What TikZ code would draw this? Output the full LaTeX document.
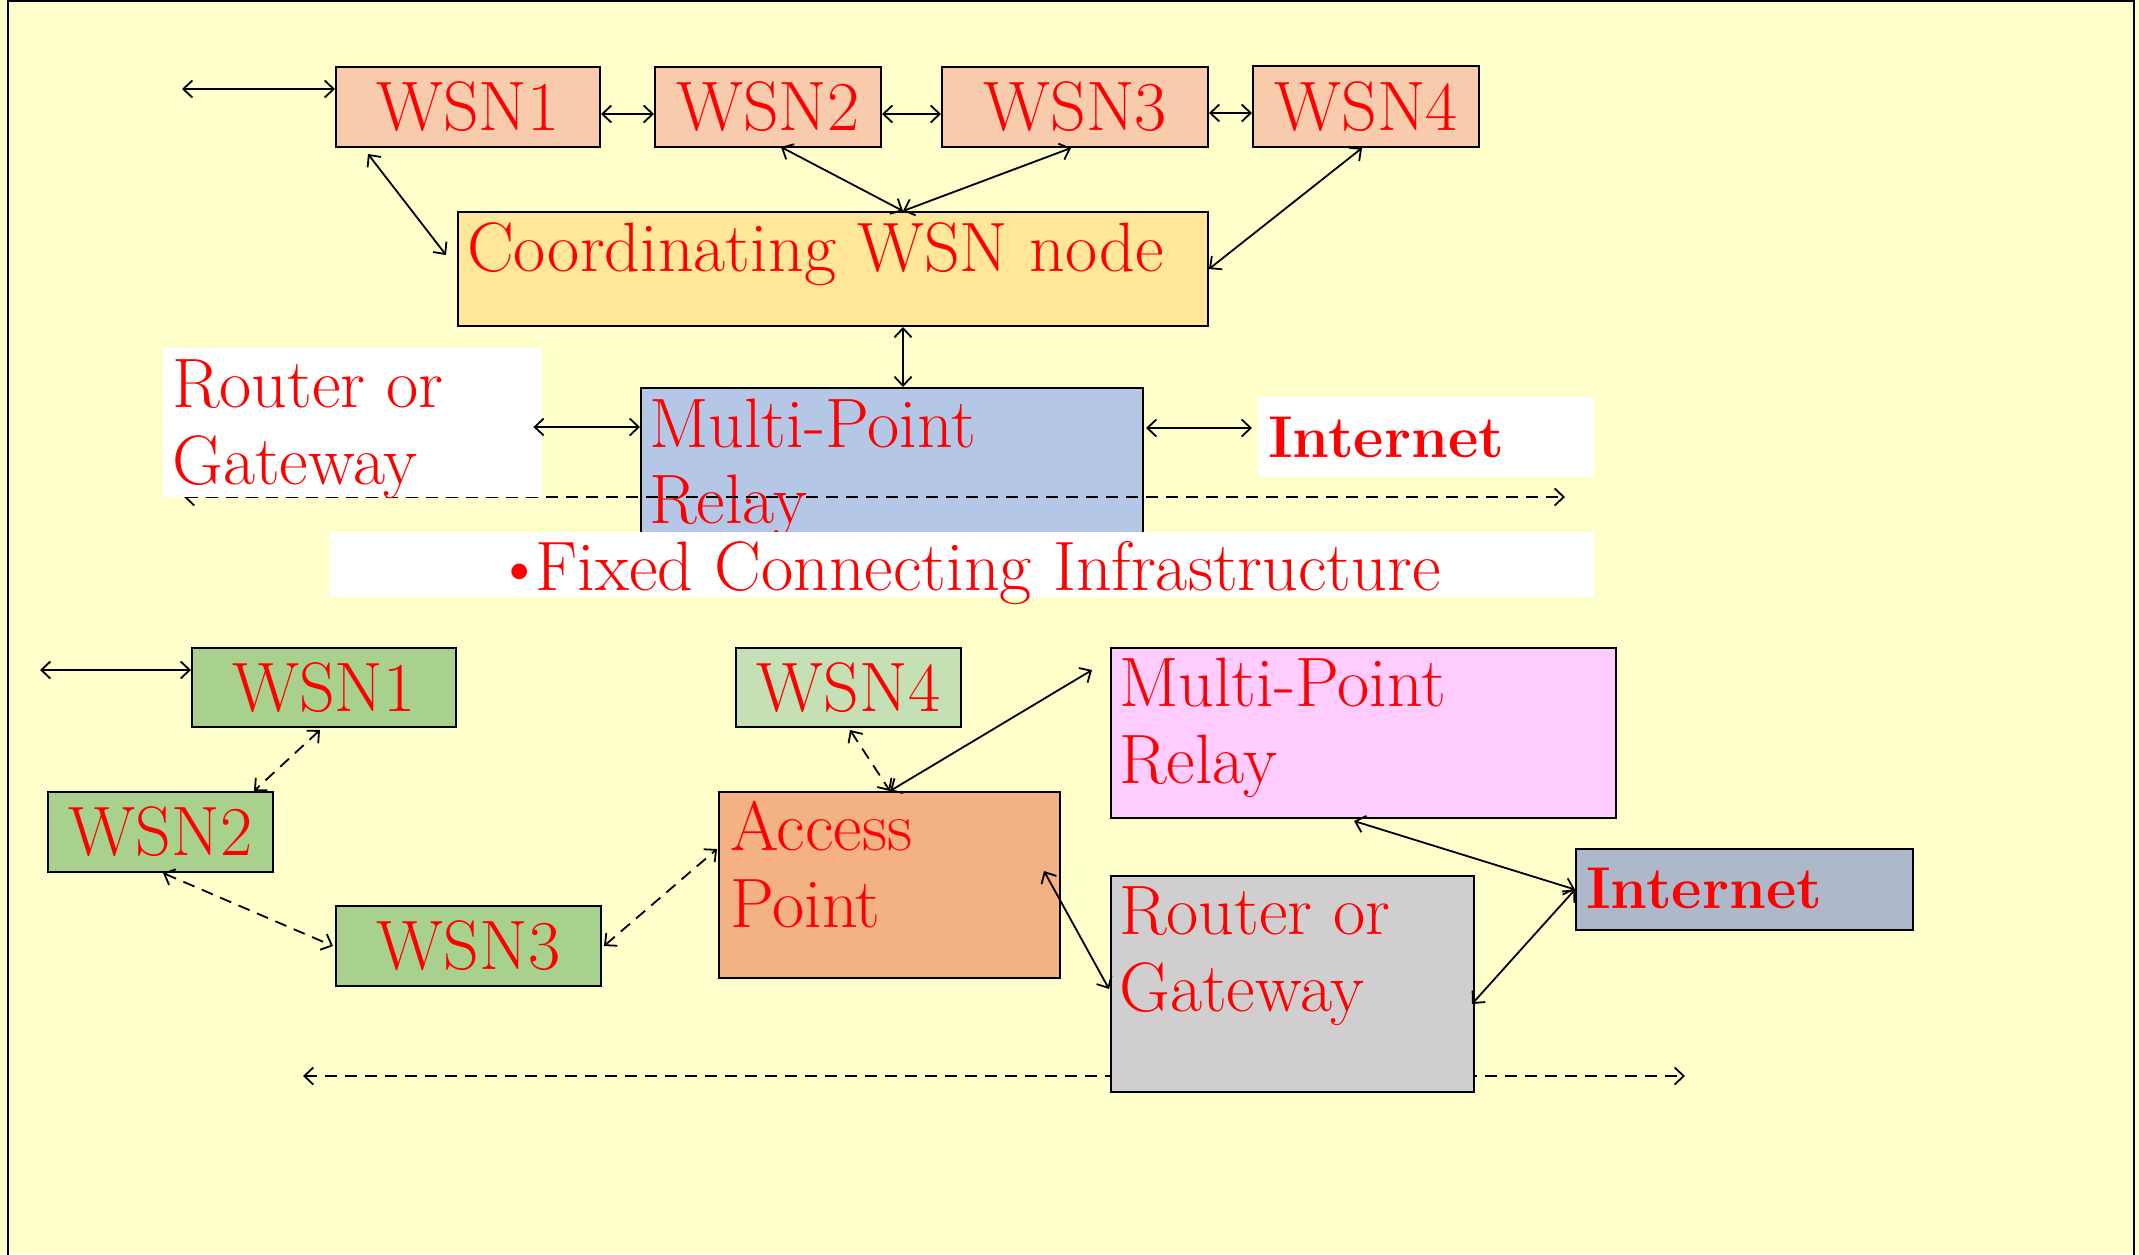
\documentclass[tikz,border=0pt]{standalone}
\usepackage{fontspec}
\usetikzlibrary{arrows.meta}
\definecolor{bgy}{HTML}{FFFFCC}
\definecolor{peach}{HTML}{F8CBAD}
\definecolor{coordc}{HTML}{FFE699}
\definecolor{mprblue}{HTML}{B4C7E7}
\definecolor{wgreen}{HTML}{A9D18E}
\definecolor{wlgreen}{HTML}{C5E0B4}
\definecolor{apc}{HTML}{F4B183}
\definecolor{pinkc}{HTML}{FFCCFF}
\definecolor{grayc}{HTML}{D0CECE}
\definecolor{inetc}{HTML}{ADB9CA}
\newcommand\bigtxt{\fontsize{70}{84}\selectfont}
\newcommand\inetfont{\fontsize{59}{70}\selectfont\bfseries}
\tikzset{
  box/.style={draw=black, line width=2pt, inner sep=0pt, anchor=north west, font=\bigtxt, text=red},
  wbox/.style={draw=none, fill=white, inner sep=0pt, anchor=north west},
  lbl/.style={anchor=base west, inner sep=0pt, text=red, font=\bigtxt},
  ilbl/.style={anchor=base west, inner sep=0pt, text=red, font=\inetfont},
  arr/.style={line width=1.8pt, {Straight Barb[length=9pt,width=17pt]}-{Straight Barb[length=9pt,width=17pt]}},
  dsh/.style={arr, dash pattern=on 12pt off 8pt}
}
\begin{document}
\begin{tikzpicture}[x=1pt,y=-1pt]
\useasboundingbox (0,0) rectangle (2139,1254);
\fill[bgy] (0,0) rectangle (2139,1254);
\draw[line width=2pt] (8,1256) -- (8,1) -- (2134,1) -- (2134,1256);

% ---------- top section ----------
\node[box, fill=peach, minimum width=264, minimum height=80] (tw1) at (335,66) {WSN1};
\node[box, fill=peach, minimum width=226, minimum height=80] (tw2) at (654,66) {WSN2};
\node[box, fill=peach, minimum width=266, minimum height=80] (tw3) at (941,66) {WSN3};
\node[box, fill=peach, minimum width=226, minimum height=81] (tw4) at (1252,65) {WSN4};
\node[box, fill=coordc, minimum width=750, minimum height=114] (coord) at (457,211) {};
\node[lbl] (tcoord) at (467,271) {Coordinating WSN node};
\node[box, fill=mprblue, minimum width=502, minimum height=175] (mpr1) at (640,387) {};
\node[lbl] (tmpr1a) at (649,447) {Multi-Point};
\node[lbl] (tmpr1b) at (649,523) {Relay};

\coordinate (D1) at (184,497);
\coordinate (D2) at (1565,497);
\draw[dsh] (D1) -- (D2);

\node[wbox, minimum width=379, minimum height=149] (router1) at (163,348) {};
\node[lbl] (trouter1a) at (172,407) {Router or};
\node[lbl] (trouter1b) at (172,484) {Gateway};
\node[wbox, minimum width=336, minimum height=80] (inet1) at (1258,397) {};
\node[ilbl] (tinet1) at (1268,457) {Internet};
\node[wbox, minimum width=1264, minimum height=65] (fixed) at (330,532) {};
\node[lbl] (tfixed) at (494,590) {\textbullet\kern-9pt Fixed Connecting Infrastructure};

\coordinate (L1) at (182,89);
\draw[arr] (L1) -- (L1 -| tw1.west);
\draw[arr] ([yshift=-7pt]tw1.east) -- ([yshift=-7pt]tw2.west);
\draw[arr] ([yshift=-7pt]tw2.east) -- ([yshift=-7pt]tw3.west);
\coordinate (t34) at ([yshift=-6pt]tw3.east);
\draw[arr] (t34) -- (t34 -| tw4.west);
\draw[arr] ([shift={(33,6)}]tw1.south west) -- ([shift={(-11,-14)}]coord.west);
\coordinate (ctop) at ([xshift=446pt]coord.north west);
\draw[arr] ([shift={(127,-1)}]tw2.south west) -- (ctop);
\draw[arr] ([shift={(130,0)}]tw3.south west) -- (ctop);
\draw[arr] ([shift={(110,0)}]tw4.south west) -- (coord.east);
\draw[arr] (coord.south west -| ctop) -- (mpr1.north west -| ctop);
\coordinate (ra) at ([shift={(-9,79)}]router1.north east);
\draw[arr] (ra) -- (ra -| mpr1.west);
\draw[arr] ([shift={(2,41)}]mpr1.north east) -- ([shift={(-6,31)}]inet1.north west);

% ---------- bottom section ----------
\node[box, fill=wgreen, minimum width=264, minimum height=79] (bw1) at (191,647) {WSN1};
\node[box, fill=wgreen, minimum width=225, minimum height=80] (bw2) at (47,791) {WSN2};
\node[box, fill=wgreen, minimum width=265, minimum height=80] (bw3) at (335,905) {WSN3};
\node[box, fill=wlgreen, minimum width=225, minimum height=79] (bw4) at (735,647) {WSN4};
\node[box, fill=apc, minimum width=341, minimum height=186] (ap) at (718,791) {};
\node[lbl] (tapa) at (730,850) {Access};
\node[lbl] (tapb) at (730,927) {Point};
\node[box, fill=pinkc, minimum width=505, minimum height=170] (mpr2) at (1110,647) {};
\node[lbl] (tmpr2a) at (1119,706) {Multi-Point};
\node[lbl] (tmpr2b) at (1119,783) {Relay};

\coordinate (D3) at (303,1076);
\coordinate (D4) at (1685,1076);
\draw[dsh] (D3) -- (D4);

\node[box, fill=grayc, minimum width=363, minimum height=216] (rg2) at (1110,875) {};
\node[lbl] (trg2a) at (1119,934) {Router or};
\node[lbl] (trg2b) at (1119,1011) {Gateway};
\node[box, fill=inetc, minimum width=337, minimum height=81] (inet2) at (1575,848) {};
\node[ilbl] (tinet2) at (1586,908) {Internet};

\coordinate (L2) at (40,670);
\draw[arr] (L2) -- (L2 -| bw1.west);
\draw[dsh] ([shift={(129,2)}]bw1.south west) -- ([shift={(207,0)}]bw2.north west);
\draw[dsh] ([shift={(116,0)}]bw2.south west) -- ([shift={(-2,0)}]bw3.west);
\draw[dsh] ([shift={(2,0)}]bw3.east) -- ([shift={(-1,58)}]ap.north west);
\coordinate (aptop) at ([shift={(172,0)}]ap.north west);
\draw[dsh] ([shift={(115,2)}]bw4.south west) -- (aptop);
\draw[arr] (aptop) -- ([shift={(-18,23)}]mpr2.north west);
\draw[arr] ([shift={(-17,80)}]ap.north east) -- ([shift={(-1,5)}]rg2.west);
\draw[arr] ([shift={(244,2)}]mpr2.south west) -- (inet2.west);
\draw[arr] ([shift={(-3,20)}]rg2.east) -- (inet2.west);
\end{tikzpicture}
\end{document}
